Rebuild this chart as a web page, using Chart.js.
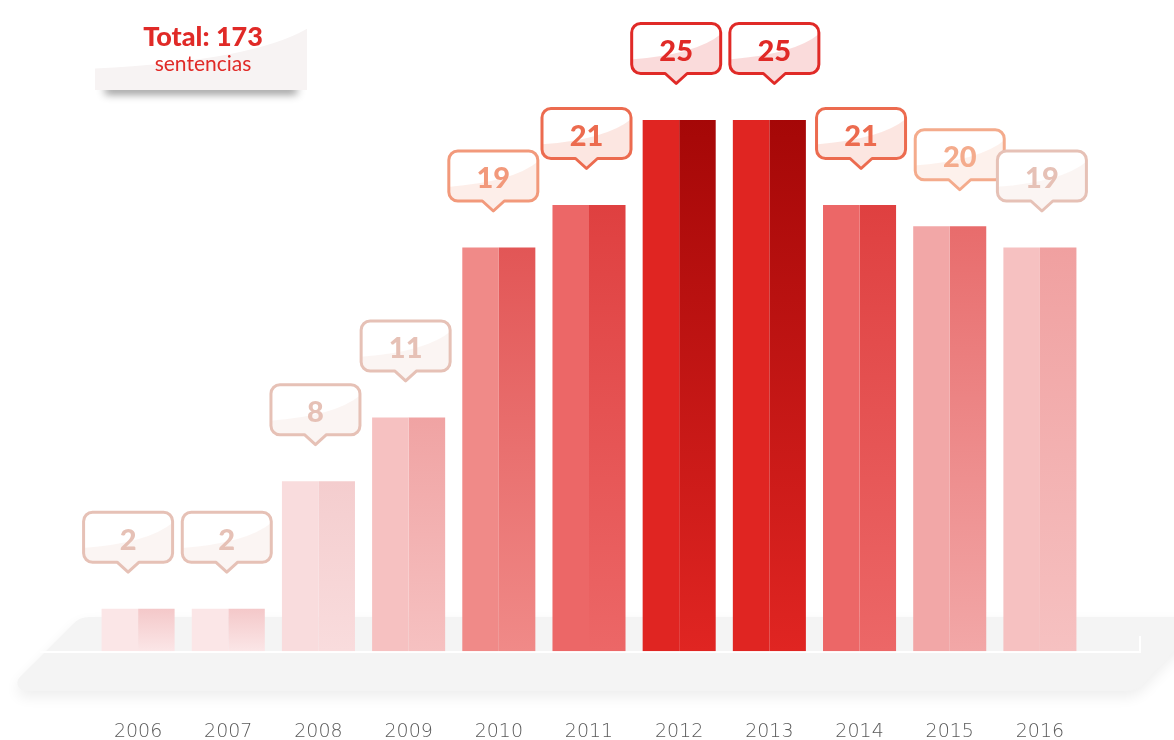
<!DOCTYPE html>
<html>
<head>
<meta charset="utf-8">
<script src="https://cdn.jsdelivr.net/npm/chart.js@4"></script>
<style>
  body { margin: 0; background: #fff; }
  #wrap { width: 1174px; height: 740px; position: relative; }
</style>
</head>
<body>
<div id="wrap"><canvas id="barChart"></canvas></div>
<script>
// Sentencias por año
const years = ['2006', '2007', '2008', '2009', '2010', '2011', '2012', '2013', '2014', '2015', '2016'];
const sentencias = [2, 2, 8, 11, 19, 21, 25, 25, 21, 20, 19];

// left half (flat) and right half (gradient top) colours
const leftColors = ['#fbe6e7', '#fbe6e7', '#f9dcdd', '#f6c1c1', '#f08a88', '#ec6767', '#e02522', '#e02522', '#ec6767', '#f2a7a7', '#f6c1c1'];
const rightTopColors = ['#f4c8c9', '#f4c8c9', '#f4cdce', '#f0a3a3', '#e25656', '#df4040', '#a50707', '#a50707', '#df4040', '#e86c6c', '#f0a0a0'];
const calloutColors = ['#e6c1b6', '#e6c1b6', '#e6c1b6', '#e6c1b6', '#f2997b', '#ec6b4f', '#e02a27', '#e02a27', '#ec6b4f', '#f4ab8c', '#e6c1b6'];
// bubbles are not exactly centred on their bars in the original
const calloutNudge = [-10, -1.5, -3, -3, -5.5, -2.5, -3, 5, 1.5, 10, 2];

const total = sentencias.reduce((a, b) => a + b, 0);

function hexToRgba(hex, a) {
  const n = parseInt(hex.slice(1), 16);
  return `rgba(${(n >> 16) & 255}, ${(n >> 8) & 255}, ${n & 255}, ${a})`;
}

// polygon with a radius per corner
function roundedPoly(ctx, pts, radii) {
  ctx.beginPath();
  const n = pts.length;
  const mid = [(pts[0][0] + pts[1][0]) / 2, (pts[0][1] + pts[1][1]) / 2];
  ctx.moveTo(mid[0], mid[1]);
  for (let i = 1; i <= n; i++) {
    const p = pts[i % n], q = pts[(i + 1) % n];
    ctx.arcTo(p[0], p[1], q[0], q[1], radii[i % n]);
  }
  ctx.closePath();
}

function calloutPath(ctx, x0, y0, w, h, r, pw, ph) {
  const cx = x0 + w / 2;
  ctx.beginPath();
  ctx.moveTo(x0 + r, y0);
  ctx.lineTo(x0 + w - r, y0);
  ctx.arcTo(x0 + w, y0, x0 + w, y0 + r, r);
  ctx.lineTo(x0 + w, y0 + h - r);
  ctx.arcTo(x0 + w, y0 + h, x0 + w - r, y0 + h, r);
  ctx.lineTo(cx + pw / 2, y0 + h);
  ctx.lineTo(cx, y0 + h + ph);
  ctx.lineTo(cx - pw / 2, y0 + h);
  ctx.lineTo(x0 + r, y0 + h);
  ctx.arcTo(x0, y0 + h, x0, y0 + h - r, r);
  ctx.lineTo(x0, y0 + r);
  ctx.arcTo(x0, y0, x0 + r, y0, r);
  ctx.closePath();
}

// gloss: tinted area below a curve rising to the right
function glossPath(ctx, x0, y0, w, h) {
  ctx.beginPath();
  ctx.moveTo(x0 - 2, y0 + h * 0.72);
  ctx.quadraticCurveTo(x0 + w * 0.75, y0 + h * 0.62, x0 + w + 2, y0 + h * 0.18);
  ctx.lineTo(x0 + w + 2, y0 + h + 20);
  ctx.lineTo(x0 - 2, y0 + h + 20);
  ctx.closePath();
}

// gray platform under the bars (drawn before the axes so labels stay visible)
const platformPlugin = {
  id: 'platform',
  beforeDraw(chart) {
    const ctx = chart.ctx;
    ctx.save();
    ctx.shadowColor = 'rgba(0,0,0,0.07)';
    ctx.shadowBlur = 14;
    ctx.shadowOffsetY = 6;
    ctx.fillStyle = '#f4f4f4';
    roundedPoly(ctx, [[80, 617], [1206, 617], [1136, 691], [6, 691]], [22, 6, 22, 8]);
    ctx.fill();
    ctx.restore();
    ctx.save();
    ctx.strokeStyle = '#ffffff';
    ctx.lineWidth = 2;
    ctx.beginPath();
    ctx.moveTo(40, 652);
    ctx.lineTo(1140, 652);
    ctx.lineTo(1140, 636);
    ctx.stroke();
    ctx.restore();
  }
};

// speech bubbles with the values
const calloutPlugin = {
  id: 'callouts',
  afterDatasetsDraw(chart) {
    const ctx = chart.ctx;
    const xs = chart.scales.x, ys = chart.scales.y;
    sentencias.forEach((v, i) => {
      const cx = xs.getPixelForValue(i) + calloutNudge[i];
      const top = ys.getPixelForValue(v);
      const w = 89, h = 50;
      const x0 = cx - w / 2, y0 = top - 96.5;
      const col = calloutColors[i];
      ctx.save();
      calloutPath(ctx, x0, y0, w, h, 9, 22, 10);
      ctx.fillStyle = '#ffffff';
      ctx.fill();
      ctx.save();
      ctx.clip();
      glossPath(ctx, x0, y0, w, h);
      ctx.fillStyle = hexToRgba(col, 0.17);
      ctx.fill();
      ctx.restore();
      calloutPath(ctx, x0, y0, w, h, 9, 22, 10);
      ctx.lineWidth = 3;
      ctx.lineJoin = 'round';
      ctx.strokeStyle = col;
      ctx.stroke();
      ctx.fillStyle = col;
      ctx.font = '900 29px Lato, "Open Sans", sans-serif';
      ctx.textAlign = 'center';
      ctx.textBaseline = 'middle';
      ctx.fillText(String(v), cx, y0 + h / 2 + 3);
      ctx.restore();
    });
  },
  afterDraw(chart) {
    // total box, top left
    const ctx = chart.ctx;
    const x0 = 95, y0 = 14, w = 212, h = 76;
    ctx.save();
    ctx.shadowColor = 'rgba(0,0,0,0.45)';
    ctx.shadowBlur = 8;
    ctx.shadowOffsetY = 4;
    ctx.fillStyle = '#ffffff';
    ctx.fillRect(x0 + 10, y0 + h - 8, w - 20, 8);
    ctx.restore();
    ctx.save();
    ctx.fillStyle = '#ffffff';
    ctx.fillRect(x0, y0, w, h);
    ctx.beginPath();
    ctx.rect(x0, y0, w, h);
    ctx.clip();
    glossPath(ctx, x0, y0, w, h);
    ctx.fillStyle = '#f7f3f3';
    ctx.fill();
    ctx.restore();
    ctx.save();
    ctx.textAlign = 'center';
    ctx.textBaseline = 'alphabetic';
    ctx.fillStyle = '#e02a27';
    ctx.font = '900 27px Lato, "Open Sans", sans-serif';
    ctx.fillText('Total: ' + total, 203, 46);
    ctx.font = '21px Lato, "Open Sans", sans-serif';
    ctx.fillText('sentencias', 203, 71);
    ctx.restore();
  }
};

new Chart(document.getElementById('barChart'), {
  type: 'bar',
  data: {
    labels: years,
    datasets: [{
      data: sentencias,
      backgroundColor: leftColors,
      categoryPercentage: 0.81,
      barPercentage: 1.0
    }, {
      data: sentencias,
      categoryPercentage: 0.81,
      barPercentage: 1.0,
      backgroundColor: (c) => {
        const i = c.dataIndex;
        const chart = c.chart;
        if (!chart.chartArea || c.raw === undefined) return rightTopColors[i];
        const y = chart.scales.y;
        const g = chart.ctx.createLinearGradient(0, y.getPixelForValue(c.raw), 0, y.getPixelForValue(0));
        g.addColorStop(0, rightTopColors[i]);
        g.addColorStop(1, leftColors[i]);
        return g;
      }
    }]
  },
  options: {
    responsive: true,
    maintainAspectRatio: false,
    animation: false,
    layout: {
      padding: { top: 120, left: 93, right: 89, bottom: -72 }
    },
    plugins: {
      legend: { display: false },
      tooltip: { enabled: false }
    },
    scales: {
      x: {
        grid: { display: false, drawTicks: false },
        border: { display: false },
        ticks: {
          color: '#5a5a5a',
          padding: 69,
          font: { family: '"DejaVu Sans", sans-serif', size: 19, weight: 200 }
        }
      },
      y: {
        display: false,
        min: 0,
        max: 25
      }
    }
  },
  plugins: [platformPlugin, calloutPlugin]
});
</script>
</body>
</html>
